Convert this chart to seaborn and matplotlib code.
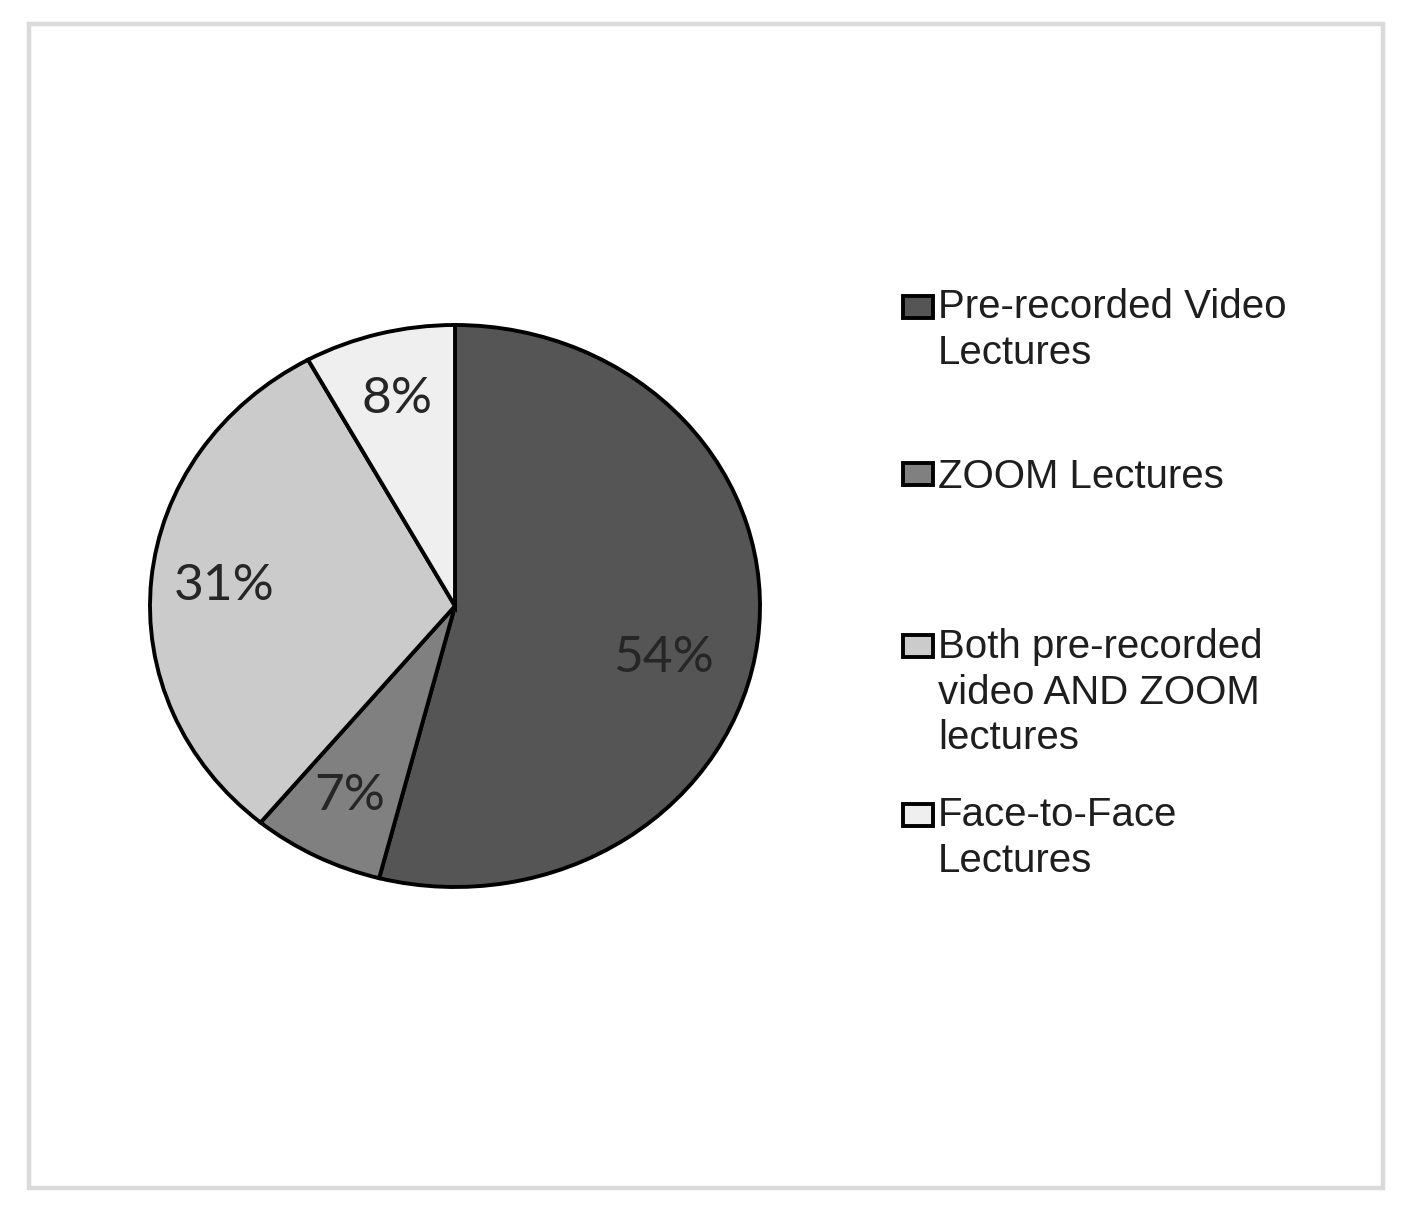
import matplotlib
matplotlib.use("Agg")
import matplotlib.pyplot as plt
import seaborn as sns
from matplotlib.patches import Rectangle
from matplotlib.legend_handler import HandlerPatch

# ---- data ----
categories = ["Pre-recorded Video\nLectures",
              "ZOOM Lectures",
              "Both pre-recorded\nvideo AND ZOOM\nlectures",
              "Face-to-Face\nLectures"]
values = [54, 7, 31, 8]
colors = ["#555555", "#808080", "#cbcbcb", "#efefef"]

sns.set_theme(style="white")
plt.rcParams['font.family'] = ['Liberation Sans', 'DejaVu Sans']

W, H = 1402, 1208
fig = plt.figure(figsize=(W / 100, H / 100), dpi=100)
fig.patch.set_facecolor('white')

# outer light-grey frame
fig.add_artist(Rectangle((29 / W, 1 - 1188 / H), (1383 - 29) / W, (1188 - 24) / H,
                         transform=fig.transFigure, fill=False,
                         edgecolor='#dadada', linewidth=3.2))

ax = fig.add_axes([150 / W, 1 - 887 / H, 610 / W, 562 / H])
wedges, texts, autotexts = ax.pie(
    values, colors=colors, startangle=90, counterclock=False,
    autopct='%1.0f%%', pctdistance=0.76, radius=1,
    wedgeprops=dict(edgecolor='black', linewidth=2.8),
    textprops=dict(fontsize=37, color='#262626', family=['Lato', 'DejaVu Sans']))
for w in wedges:
    w.set_clip_on(False)
# nudge the large-slice label slightly inward/down, as in the original
x0, y0 = autotexts[0].get_position()
autotexts[0].set_position((x0 - 0.07, y0 - 0.09))
ax.set_aspect('auto')
ax.set_xlim(-1, 1)
ax.set_ylim(-1, 1)
ax.axis('off')

FS = 29
LINE_PT = 33.8  # line spacing in points


def make_func(nlines):
    def f(legend, orig_handle, xdescent, ydescent, width, height, fontsize):
        shift = (nlines - 1) / 2 * LINE_PT
        return Rectangle((-xdescent, -ydescent + shift), width, height)
    return f


first_line_centers = [305, 475, 645, 813]
for i, (wdg, lab) in enumerate(zip(wedges, categories)):
    n = lab.count("\n") + 1
    leg = fig.legend(handles=[wdg], labels=[lab], loc='upper left',
                     bbox_to_anchor=(903 / W, 1 - (first_line_centers[i] - 17) / H),
                     frameon=False, fontsize=FS, handlelength=0.75, handleheight=0.47,
                     handletextpad=0.12, borderpad=0, borderaxespad=0,
                     handler_map={wdg: HandlerPatch(patch_func=make_func(n))})
    for t in leg.get_texts():
        t.set_color('#1e1e1e')
        t.set_linespacing(1.25)

fig.savefig("out.png", dpi=100, facecolor='white')
